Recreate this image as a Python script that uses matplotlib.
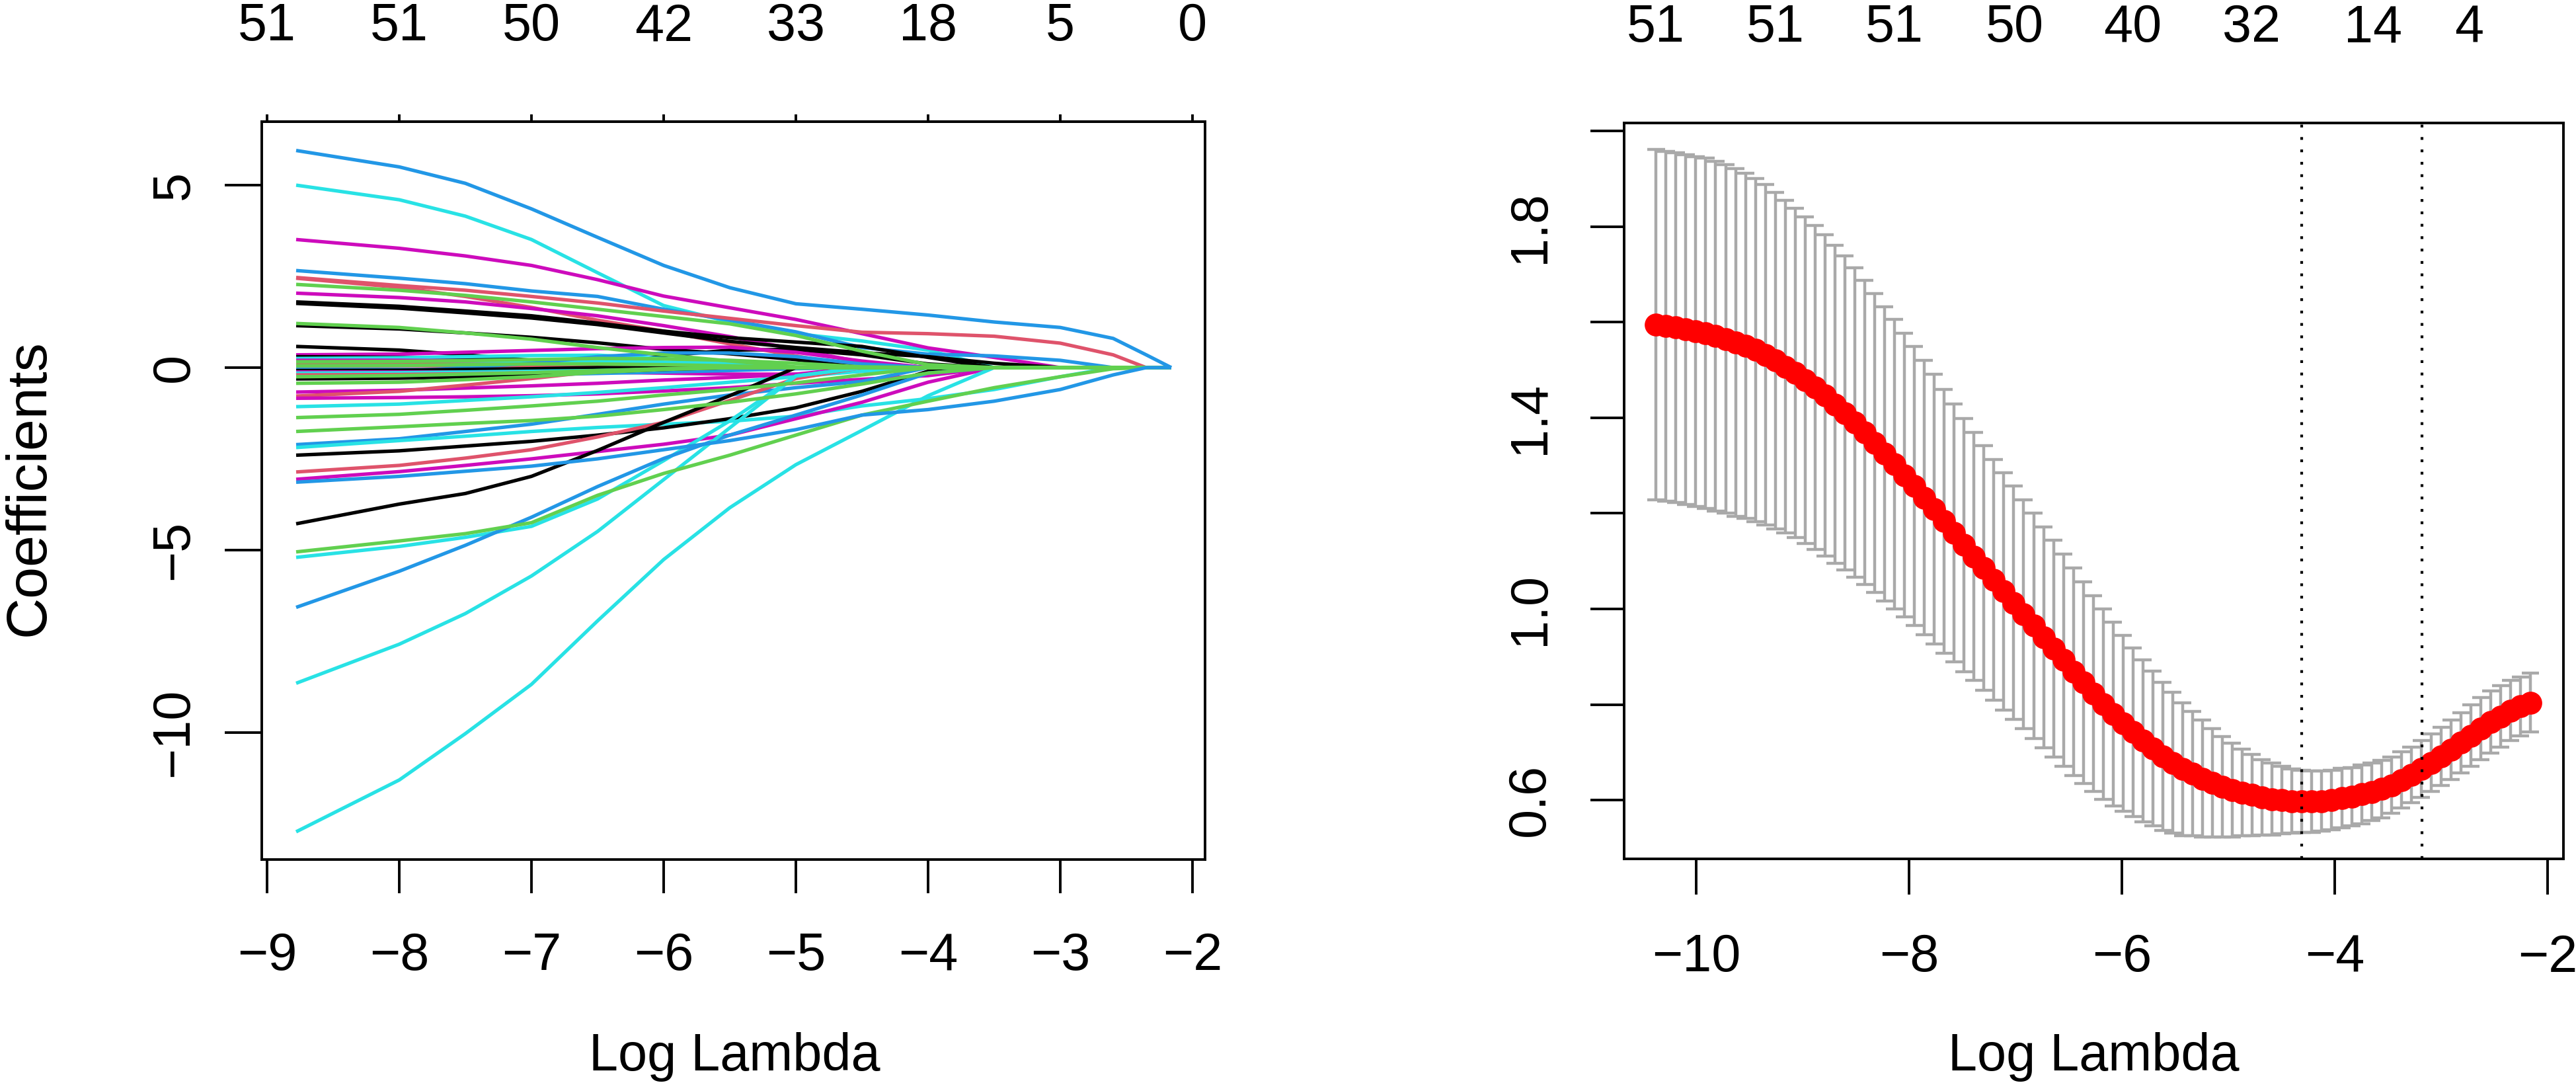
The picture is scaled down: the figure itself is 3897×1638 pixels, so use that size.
import numpy as np
import matplotlib
matplotlib.use("Agg")
import matplotlib.pyplot as plt

plt.rcParams['font.family'] = ['Liberation Sans', 'DejaVu Sans']

# R palette used by matplot()
R_COLS = {'k': '#000000', 'r': '#DF536B', 'g': '#61D04F',
          'b': '#2297E6', 'c': '#28E2E5', 'm': '#CD0BBC'}

# ---------------- left: lasso coefficient paths ----------------
path_log_lambda = [-8.78, -8.0, -7.5, -7.0, -6.5, -6.0, -5.5, -5.0, -4.5, -4.0, -3.5, -3.0, -2.6, -2.35, -2.16]

# one row per variable (values at path_log_lambda), drawn in this order
coef_paths = [
    [5.0, 4.6, 4.15, 3.51, 2.6, 1.7, 1.25, 0.93, 0.73, 0.48, 0, 0, 0, 0, 0],
    [3.51, 3.27, 3.06, 2.8, 2.41, 1.96, 1.64, 1.32, 0.93, 0.54, 0.28, 0, 0, 0, 0],
    [2.66, 2.45, 2.3, 2.1, 1.95, 1.6, 1.3, 0.98, 0.55, 0.37, 0.32, 0.2, 0, 0, 0],
    [2.47, 2.25, 2.12, 1.95, 1.77, 1.55, 1.35, 1.15, 0.97, 0.93, 0.86, 0.67, 0.35, 0, 0],
    [2.45, 2.2, 1.95, 1.65, 1.3, 1.0, 0.65, 0.32, 0, 0, 0, 0, 0, 0, 0],
    [2.04, 1.92, 1.8, 1.62, 1.42, 1.15, 0.85, 0.5, 0.15, 0, 0, 0, 0, 0, 0],
    [1.80, 1.68, 1.55, 1.42, 1.22, 1.0, 0.82, 0.7, 0.58, 0.28, 0, 0, 0, 0, 0],
    [1.76, 1.63, 1.5, 1.36, 1.18, 0.95, 0.72, 0.55, 0.41, 0.3, 0.12, 0, 0, 0, 0],
    [1.15, 1.06, 0.95, 0.83, 0.68, 0.5, 0.38, 0.22, 0, 0, 0, 0, 0, 0, 0],
    [0.58, 0.48, 0.35, 0.2, 0.06, 0.32, 0.48, 0.5, 0.35, 0.1, 0, 0, 0, 0, 0],
    [0.35, 0.37, 0.42, 0.47, 0.52, 0.55, 0.56, 0.42, 0.18, 0, 0, 0, 0, 0, 0],
    [0.30, 0.28, 0.25, 0.2, 0.12, 0.05, 0, 0, 0, 0, 0, 0, 0, 0, 0],
    [0.25, 0.27, 0.3, 0.33, 0.34, 0.25, 0.1, 0, 0, 0, 0, 0, 0, 0, 0],
    [0.20, 0.2, 0.19, 0.17, 0.13, 0.08, 0.03, 0, 0, 0, 0, 0, 0, 0, 0],
    [0.12, 0.12, 0.11, 0.1, 0.08, 0.04, 0, 0, 0, 0, 0, 0, 0, 0, 0],
    [0.10, 0.1, 0.12, 0.15, 0.18, 0.15, 0.08, 0, 0, 0, 0, 0, 0, 0, 0],
    [0.10, 0.1, 0.09, 0.08, 0.06, 0.03, 0, 0, 0, 0, 0, 0, 0, 0, 0],
    [0.04, 0.05, 0.05, 0.04, 0.02, 0, 0, 0, 0, 0, 0, 0, 0, 0, 0],
    [-0.2, -0.1, 0.0, 0.12, 0.3, 0.4, 0.4, 0.3, 0.1, 0, 0, 0, 0, 0, 0],
    [-0.05, -0.05, -0.06, -0.07, -0.08, -0.06, -0.03, 0, 0, 0, 0, 0, 0, 0, 0],
    [-0.08, -0.07, -0.05, -0.03, 0, 0, 0, 0, 0, 0, 0, 0, 0, 0, 0],
    [-0.12, -0.12, -0.12, -0.12, -0.13, -0.15, -0.18, -0.18, -0.1, 0, 0, 0, 0, 0, 0],
    [-0.15, -0.14, -0.12, -0.1, -0.08, -0.05, -0.02, 0, 0, 0, 0, 0, 0, 0, 0],
    [-0.2, -0.19, -0.17, -0.14, -0.1, -0.05, 0, 0, 0, 0, 0, 0, 0, 0, 0],
    [-0.25, -0.24, -0.22, -0.2, -0.16, -0.12, -0.08, -0.03, 0, 0, 0, 0, 0, 0, 0],
    [-0.31, -0.29, -0.25, -0.2, -0.12, -0.05, 0, 0, 0, 0, 0, 0, 0, 0, 0],
    [-0.67, -0.62, -0.56, -0.5, -0.43, -0.34, -0.27, -0.18, 0, 0, 0, 0, 0, 0, 0],
    [-0.78, -0.65, -0.48, -0.3, -0.1, -0.03, 0, 0, 0, 0, 0, 0, 0, 0, 0],
    [-0.84, -0.82, -0.8, -0.77, -0.72, -0.64, -0.55, -0.43, -0.32, -0.22, 0, 0, 0, 0, 0],
    [-1.07, -1.0, -0.9, -0.8, -0.68, -0.55, -0.4, -0.25, -0.1, 0, 0, 0, 0, 0, 0],
    [-2.11, -1.95, -1.75, -1.55, -1.28, -1.0, -0.75, -0.55, -0.38, 0, 0, 0, 0, 0, 0],
    [-2.19, -2.0, -1.88, -1.75, -1.64, -1.55, -1.47, -1.33, -1.05, -0.85, -0.6, -0.25, 0, 0, 0],
    [-2.40, -2.28, -2.15, -2.02, -1.85, -1.65, -1.4, -1.1, -0.65, -0.1, 0, 0, 0, 0, 0],
    [-2.86, -2.68, -2.48, -2.25, -1.9, -1.5, -0.9, -0.3, 0, 0, 0, 0, 0, 0, 0],
    [-3.06, -2.85, -2.68, -2.5, -2.3, -2.1, -1.85, -1.4, -0.95, -0.4, 0, 0, 0, 0, 0],
    [-4.28, -3.74, -3.45, -2.98, -2.27, -1.5, -0.77, 0, 0, 0, 0, 0, 0, 0, 0],
    [-5.2, -4.9, -4.65, -4.35, -3.6, -2.55, -1.46, -0.23, 0, 0, 0, 0, 0, 0, 0],
    [-6.57, -5.58, -4.87, -4.1, -3.26, -2.49, -1.85, -1.3, -0.75, -0.15, 0, 0, 0, 0, 0],
    [-8.65, -7.58, -6.74, -5.71, -4.49, -3.07, -1.65, -0.23, 0, 0, 0, 0, 0, 0, 0],
    [-12.72, -11.3, -10.03, -8.68, -6.94, -5.26, -3.84, -2.66, -1.72, -0.77, 0, 0, 0, 0, 0],
    [2.28, 2.12, 1.98, 1.8, 1.6, 1.4, 1.2, 0.88, 0.45, 0.08, 0, 0, 0, 0, 0],
    [1.21, 1.1, 0.95, 0.78, 0.55, 0.35, 0.18, 0.02, 0, 0, 0, 0, 0, 0, 0],
    [0.16, 0.17, 0.19, 0.22, 0.25, 0.24, 0.2, 0.12, 0.02, 0, 0, 0, 0, 0, 0],
    [0.05, 0.06, 0.08, 0.1, 0.1, 0.08, 0.05, 0, 0, 0, 0, 0, 0, 0, 0],
    [-0.25, -0.22, -0.18, -0.14, -0.08, -0.03, 0, 0, 0, 0, 0, 0, 0, 0, 0],
    [-0.43, -0.4, -0.33, -0.25, -0.13, -0.05, 0, 0, 0, 0, 0, 0, 0, 0, 0],
    [-1.37, -1.28, -1.17, -1.05, -0.92, -0.75, -0.6, -0.42, -0.2, 0, 0, 0, 0, 0, 0],
    [-1.75, -1.62, -1.53, -1.45, -1.33, -1.15, -0.95, -0.72, -0.45, -0.15, 0, 0, 0, 0, 0],
    [-5.05, -4.75, -4.55, -4.25, -3.5, -2.9, -2.4, -1.85, -1.3, -0.92, -0.55, -0.25, -0.03, 0, 0],
    [-3.14, -2.98, -2.84, -2.7, -2.5, -2.25, -2.0, -1.7, -1.3, -1.15, -0.92, -0.6, -0.2, 0, 0],
    [5.95, 5.5, 5.05, 4.35, 3.57, 2.8, 2.19, 1.75, 1.6, 1.44, 1.25, 1.1, 0.8, 0.35, 0.0],
]
coef_colors = ['c', 'm', 'b', 'r', 'r', 'm', 'k', 'k', 'k', 'k', 'm', 'k', 'c', 'm', 'b', 'c',
               'r', 'r', 'b', 'b', 'k', 'm', 'c', 'r', 'b', 'k', 'm', 'r', 'm', 'c', 'b', 'c',
               'k', 'r', 'm', 'k', 'c', 'b', 'c', 'c',
               'g', 'g', 'g', 'g', 'g', 'g', 'g', 'g', 'g', 'b', 'b']

path_ticks = [-9, -8, -7, -6, -5, -4, -3, -2]
path_nonzero = ['51', '51', '50', '42', '33', '18', '5', '0']
coef_yticks = [-10, -5, 0, 5]

# ---------------- right: cross-validation curve ----------------
cv_first, cv_last = -10.38, -2.16
cv_mean = [1.595, 1.592, 1.589, 1.585, 1.581, 1.577, 1.571, 1.565, 1.558, 1.551,
           1.542, 1.532, 1.520, 1.507, 1.494, 1.479, 1.464, 1.447, 1.428, 1.410,
           1.390, 1.369, 1.347, 1.325, 1.303, 1.280, 1.257, 1.233, 1.209, 1.184,
           1.159, 1.134, 1.110, 1.086, 1.061, 1.037, 1.013, 0.989, 0.965, 0.941,
           0.917, 0.893, 0.869, 0.846, 0.823, 0.801, 0.780, 0.760, 0.742, 0.724,
           0.708, 0.692, 0.678, 0.665, 0.655, 0.645, 0.636, 0.628, 0.621, 0.616,
           0.611, 0.606, 0.602, 0.600, 0.598, 0.597, 0.597, 0.598, 0.600, 0.604,
           0.607, 0.612, 0.617, 0.623, 0.631, 0.642, 0.653, 0.665, 0.678, 0.691,
           0.705, 0.720, 0.735, 0.749, 0.763, 0.775, 0.787, 0.796, 0.804]
cv_sd = [0.366, 0.366, 0.366, 0.366, 0.366, 0.366, 0.366, 0.365, 0.364, 0.361,
         0.359, 0.356, 0.352, 0.348, 0.345, 0.342, 0.339, 0.336, 0.333, 0.329,
         0.324, 0.318, 0.313, 0.308, 0.303, 0.297, 0.292, 0.287, 0.282, 0.276,
         0.270, 0.265, 0.260, 0.256, 0.252, 0.248, 0.244, 0.240, 0.236, 0.231,
         0.227, 0.222, 0.217, 0.211, 0.205, 0.199, 0.192, 0.184, 0.177, 0.169,
         0.162, 0.155, 0.147, 0.139, 0.130, 0.122, 0.114, 0.105, 0.098, 0.091,
         0.085, 0.079, 0.075, 0.071, 0.067, 0.065, 0.064, 0.063, 0.062, 0.062,
         0.061, 0.061, 0.060, 0.060, 0.059, 0.059, 0.058, 0.059, 0.060, 0.061,
         0.062, 0.063, 0.064, 0.065, 0.065, 0.064, 0.063, 0.062, 0.062]
cv_nz_pos = [-10.38, -9.26, -8.14, -7.01, -5.90, -4.78, -3.64, -2.74]
cv_nz_labels = ['51', '51', '51', '50', '40', '32', '14', '4']
lambda_min, lambda_1se = -4.31, -3.18
cv_xticks = [-10, -8, -6, -4, -2]
cv_yticks = [0.6, 0.8, 1.0, 1.2, 1.4, 1.6, 1.8, 2.0]
cv_ylabels = ['0.6', '', '1.0', '', '1.4', '', '1.8', '']

FS = 57
W, H = 3898, 1638
fig = plt.figure(figsize=(W / 100, H / 100), dpi=100)

# ---- left panel
ax1 = fig.add_axes([396 / W, 1 - 1300 / H, (1823 - 396) / W, (1300 - 184) / H])
for row, c in zip(coef_paths, coef_colors):
    ax1.plot(path_log_lambda, row, color=R_COLS[c], lw=3.8, solid_capstyle='butt')
ax1.set_xlim(-9.04, -1.905)
ax1.set_ylim(-13.48, 6.74)
ax1.set_xticks(path_ticks)
ax1.set_yticks(coef_yticks)
ax1.set_yticklabels([str(v).replace('-', '\u2212') for v in coef_yticks], rotation=90, va='center')
ax1.tick_params(axis='x', length=36.7, width=2.8, pad=42, labelsize=FS)
ax1.tick_params(axis='y', length=40, width=2.8, pad=28, labelsize=FS)
top1 = ax1.secondary_xaxis('top')
top1.set_xticks(path_ticks)
top1.set_xticklabels(path_nonzero)
top1.tick_params(length=8, width=2.8, pad=68, labelsize=FS)
fig.text(1111 / W, 1 - 1619 / H, 'Log Lambda', ha='center', va='baseline', fontsize=FS)
fig.text(67 / W, 1 - 738 / H, 'Coefficients', ha='center', va='baseline',
         rotation=90, rotation_mode='anchor', fontsize=62)

# ---- right panel
ax2 = fig.add_axes([2457 / W, 1 - 1299 / H, (3878 - 2457) / W, (1299 - 186) / H])
x = np.linspace(cv_first, cv_last, len(cv_mean))
mean = np.array(cv_mean)
sd = np.array(cv_sd)
up, lo = mean + sd, mean - sd
barw = 0.01 * (x.max() - x.min())
grey = '#A9A9A9'
ax2.vlines(x, lo, up, color=grey, lw=3.2)
ax2.hlines(up, x - barw, x + barw, color=grey, lw=3.2)
ax2.hlines(lo, x - barw, x + barw, color=grey, lw=3.2)
ax2.plot(x, mean, 'o', color='red', ms=25, mew=0)
for v in (lambda_min, lambda_1se):
    ax2.axvline(v, color='black', lw=3, ls=(0, (1, 3.5)))
ax2.set_xlim(-10.68, -1.85)
ax2.set_ylim(0.477, 2.017)
ax2.set_xticks(cv_xticks)
ax2.set_xticklabels([str(v).replace('-', '\u2212') for v in cv_xticks])
ax2.set_yticks(cv_yticks)
ax2.set_yticklabels(cv_ylabels, rotation=90, va='center')
ax2.tick_params(axis='x', length=39, width=2.8, pad=42, labelsize=FS)
ax2.tick_params(axis='y', length=37, width=2.8, pad=38, labelsize=FS)
top2 = ax2.secondary_xaxis('top')
top2.set_xticks(cv_nz_pos)
top2.set_xticklabels(cv_nz_labels)
top2.tick_params(length=0, pad=76, labelsize=FS)
fig.text((2457 + 3878) / 2 / W, 1 - 1619 / H, 'Log Lambda', ha='center', va='baseline', fontsize=FS)

for ax in (ax1, ax2, top1, top2):
    for s in ax.spines.values():
        s.set_linewidth(2.8)

fig.savefig('out.png', dpi=100)
